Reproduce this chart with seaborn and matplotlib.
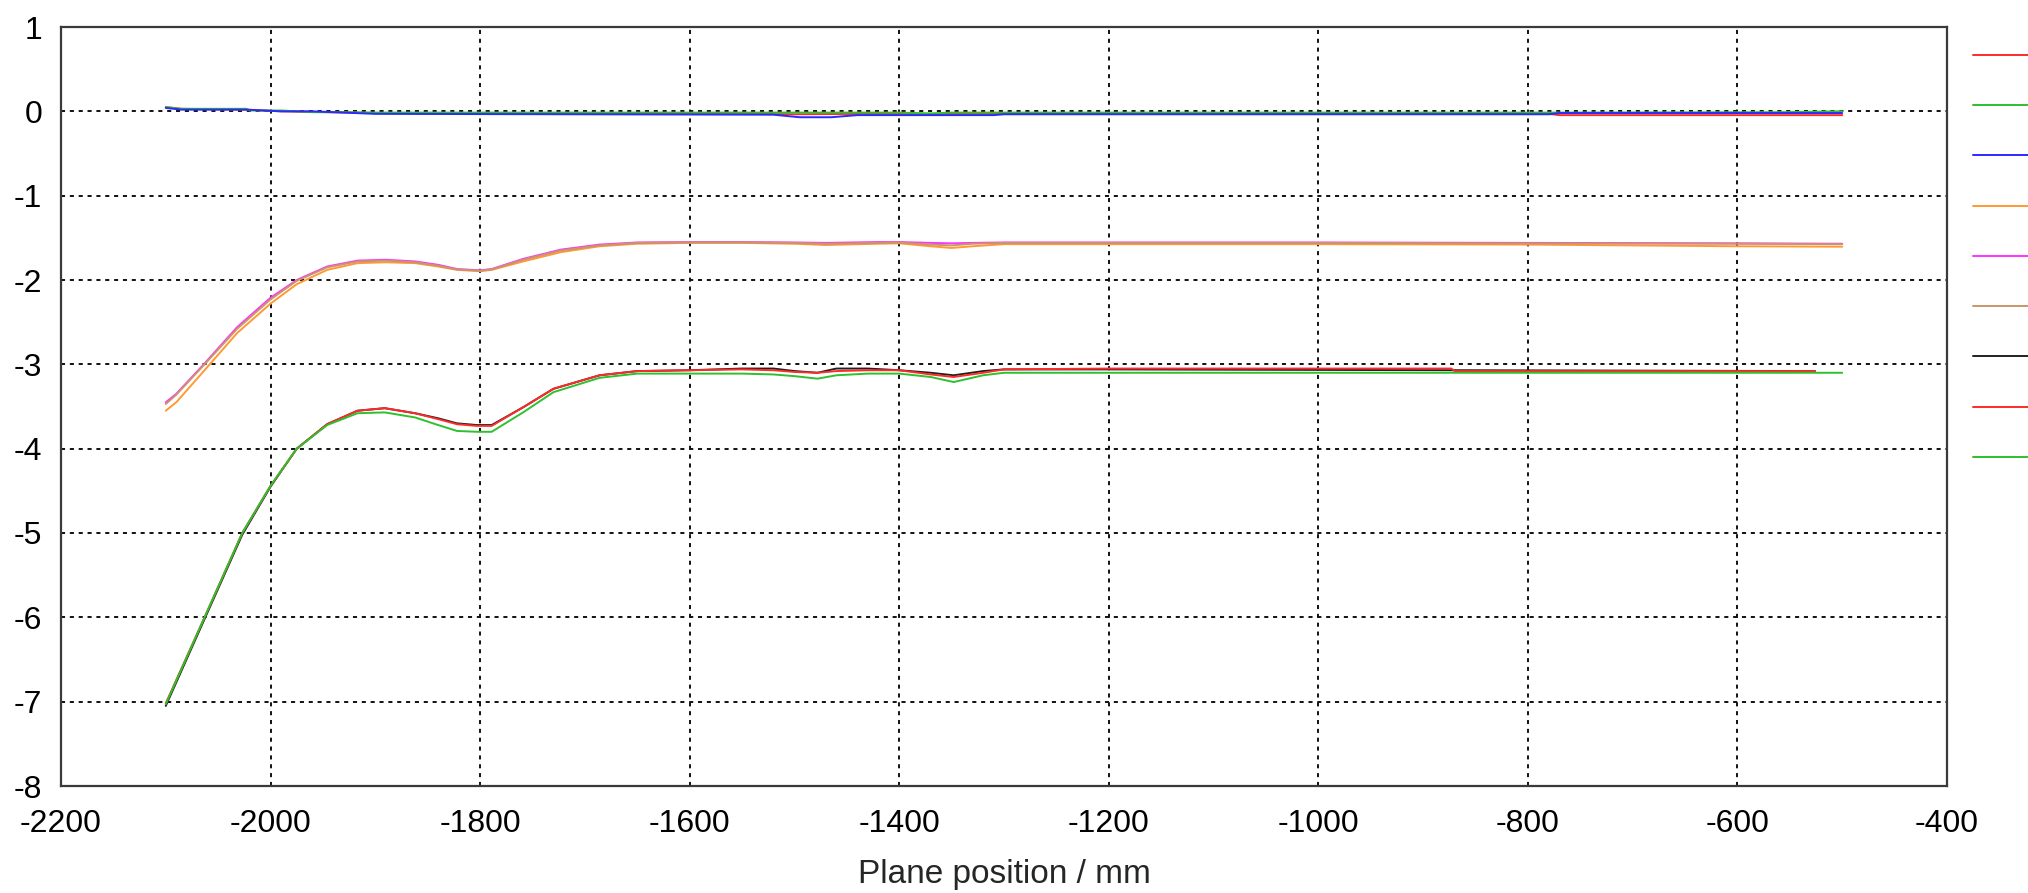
import matplotlib
matplotlib.use("Agg")
import matplotlib.pyplot as plt
import numpy as np
import pandas as pd
import seaborn as sns

# ---- axis ticks -------------------------------------------------------
x_ticks = [-2200, -2000, -1800, -1600, -1400, -1200, -1000, -800, -600, -400]
y_ticks = [-8, -7, -6, -5, -4, -3, -2, -1, 0, 1]

# ---- set 1 (around 0) --------------------------------------------------
a_red_x = [-2100, -2085, -2023, -1990, -1900, -1780, -1712, -1530, -1500, -1440, -1310, -780, -770, -500]
a_red_y = [0.05, 0.03, 0.02, 0.0, -0.02, -0.03, -0.02, -0.03, -0.035, -0.03, -0.03, -0.03, -0.045, -0.045]
a_green_x = [-2100, -2085, -2023, -2020, -1990, -1960, -1930, -1900, -1400, -1370, -1350, -780, -560, -500]
a_green_y = [0.05, 0.03, 0.03, 0.01, 0.01, -0.01, -0.01, -0.015, -0.015, -0.025, -0.015, -0.015, -0.01, 0.0]
a_blue_x = [-2100, -2085, -2023, -1990, -1960, -1900, -1520, -1495, -1465, -1440, -1310, -1300, -780, -770, -500]
a_blue_y = [0.04, 0.02, 0.02, 0.0, 0.0, -0.03, -0.04, -0.07, -0.07, -0.045, -0.045, -0.035, -0.035, -0.02, -0.02]

# ---- set 2 (around -1.55) ---------------------------------------------
b_x = [-2100, -2090, -2063, -2032, -2000, -1975, -1946, -1917, -1890, -1862,
       -1840, -1822, -1800, -1789, -1759, -1723, -1686, -1650, -1600, -1550,
       -1500, -1470, -1420, -1400, -1370, -1350, -1330, -1300, -1000, -800,
       -600, -500]
b_orange_y = [-3.55, -3.45, -3.07, -2.63, -2.28, -2.05, -1.88, -1.80, -1.79, -1.80,
              -1.84, -1.88, -1.895, -1.88, -1.78, -1.67, -1.60, -1.57, -1.56, -1.56,
              -1.57, -1.585, -1.57, -1.565, -1.60, -1.62, -1.60, -1.575, -1.575, -1.58,
              -1.60, -1.605]
b_magenta_y = [-3.45, -3.35, -2.99, -2.56, -2.21, -2.00, -1.84, -1.77, -1.76, -1.78,
               -1.82, -1.87, -1.885, -1.87, -1.75, -1.64, -1.58, -1.555, -1.55, -1.55,
               -1.555, -1.56, -1.55, -1.55, -1.56, -1.565, -1.56, -1.555, -1.555, -1.56,
               -1.565, -1.57]
b_brown_y = [-3.47, -3.36, -3.00, -2.58, -2.23, -2.01, -1.85, -1.78, -1.77, -1.79,
             -1.83, -1.875, -1.89, -1.875, -1.76, -1.65, -1.59, -1.56, -1.555, -1.555,
             -1.56, -1.57, -1.56, -1.555, -1.58, -1.59, -1.57, -1.56, -1.56, -1.565,
             -1.57, -1.575]

# ---- set 3 (around -3.1) ----------------------------------------------
c_x = [-2100, -2063, -2027, -2000, -1975, -1946, -1917, -1891, -1862, -1840,
       -1822, -1803, -1789, -1759, -1730, -1686, -1650, -1600, -1550, -1520,
       -1500, -1478, -1460, -1430, -1400, -1370, -1348, -1320, -1300]
c_black_y = [-7.05, -6.02, -5.02, -4.45, -4.00, -3.71, -3.55, -3.52, -3.58, -3.64,
             -3.70, -3.72, -3.72, -3.51, -3.29, -3.13, -3.08, -3.07, -3.05, -3.05,
             -3.08, -3.10, -3.05, -3.05, -3.07, -3.10, -3.13, -3.08, -3.06]
c_red_y = [-7.02, -6.00, -5.00, -4.44, -4.00, -3.71, -3.55, -3.52, -3.58, -3.65,
           -3.71, -3.73, -3.73, -3.51, -3.29, -3.13, -3.08, -3.07, -3.06, -3.07,
           -3.09, -3.10, -3.08, -3.07, -3.07, -3.12, -3.15, -3.10, -3.06]
c_green_y = [-7.03, -6.00, -5.00, -4.44, -4.00, -3.72, -3.58, -3.57, -3.63, -3.72,
             -3.79, -3.80, -3.80, -3.57, -3.33, -3.16, -3.11, -3.11, -3.11, -3.12,
             -3.14, -3.17, -3.13, -3.11, -3.11, -3.15, -3.21, -3.13, -3.10]
c_black_tail_x = [-1200, -526]
c_black_tail_y = [-3.06, -3.08]
c_red_tail_x = [-1200, -873, -870, -526]
c_red_tail_y = [-3.05, -3.05, -3.08, -3.08]
c_green_tail_x = [-1200, -500]
c_green_tail_y = [-3.10, -3.10]

series_names = ["set1_x", "set1_y", "set1_z",
                "set2_x", "set2_y", "set2_z",
                "set3_x", "set3_y", "set3_z"]
series_colors = ["#ff2a2a", "#2ec02e", "#2a2aff",
                 "#ff9933", "#ff33ff", "#c8966a",
                 "#202020", "#ff2a2a", "#2ec02e"]

series_xy = [
    (a_red_x, a_red_y),
    (a_green_x, a_green_y),
    (a_blue_x, a_blue_y),
    (b_x, b_orange_y),
    (b_x, b_magenta_y),
    (b_x, b_brown_y),
    (c_x + c_black_tail_x, c_black_y + c_black_tail_y),
    (c_x + c_red_tail_x, c_red_y + c_red_tail_y),
    (c_x + c_green_tail_x, c_green_y + c_green_tail_y),
]

frames = []
for name, (xs, ys) in zip(series_names, series_xy):
    frames.append(pd.DataFrame({"position": xs, "value": ys, "series": name}))
df = pd.concat(frames, ignore_index=True)

sns.set_style("white")
plt.rcParams["font.family"] = ["Liberation Sans", "DejaVu Sans"]
plt.rcParams["axes.unicode_minus"] = False

W, H = 2028, 893
fig = plt.figure(figsize=(W / 100, H / 100), dpi=100)
ax = fig.add_axes([61 / W, 1 - 786 / H, (1947 - 61) / W, (786 - 27) / H])

sns.lineplot(data=df, x="position", y="value", hue="series",
             hue_order=series_names, palette=series_colors,
             units="series", estimator=None, sort=False,
             linewidth=1.4, ax=ax)

ax.set_xlim(-2200, -400)
ax.set_ylim(-8, 1)
ax.set_xticks(x_ticks)
ax.set_yticks(y_ticks)
ax.set_xticklabels([str(v) for v in x_ticks])
ax.set_yticklabels([str(v) for v in y_ticks])

ax.grid(True, color="#111111", linestyle=(0, (2.1, 2.45)), linewidth=1.4)
ax.set_axisbelow(True)
for sp in ax.spines.values():
    sp.set_visible(True)
    sp.set_color("#3a3a3a")
    sp.set_linewidth(1.6)

ax.tick_params(axis="both", which="major", direction="out", length=4.5,
               width=1.2, color="#303030", labelsize=23, labelcolor="black")
ax.tick_params(axis="x", pad=12)
ax.tick_params(axis="y", pad=9)

ax.set_xlabel("Plane position / mm", fontsize=24, labelpad=14.5)
ax.set_ylabel("")

# series key on the right edge: line samples only, no captions
old = ax.get_legend()
handles = old.legend_handles
old.remove()
for h in handles:
    h.set_linewidth(1.4)
fig.legend(handles, [""] * len(handles), loc="upper left",
           bbox_to_anchor=(1973 / W, 1 - 48 / H), bbox_transform=fig.transFigure,
           frameon=False, fontsize=14, handlelength=4.5, handletextpad=0.0,
           labelspacing=1.68, borderpad=0, borderaxespad=0)

fig.savefig("out.png", dpi=100, facecolor="white")
